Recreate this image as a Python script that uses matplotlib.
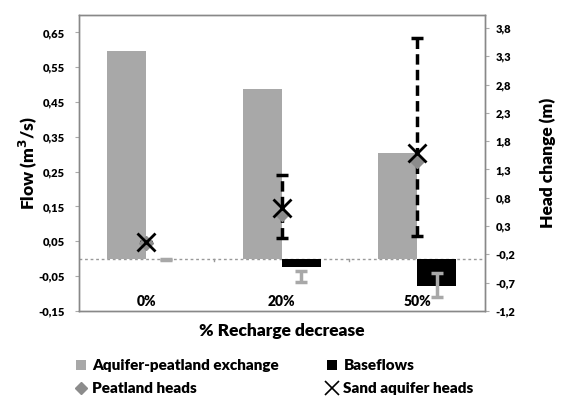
import matplotlib.pyplot as plt
from matplotlib.lines import Line2D
from matplotlib.patches import Patch
import numpy as np

# data
categories = ['0%', '20%', '50%']
exchange = [0.596, 0.488, 0.305]          # flow, m3/s
baseflows = [-0.001, -0.024, -0.080]      # flow, m3/s
base_lo = [-0.005, -0.067, -0.110]
base_hi = [-0.001, -0.035, -0.041]
peat_heads = [0.0, 0.51, 1.45]            # head change, m
sand_heads = [0.01, 0.62, 1.59]
sand_lo = [0.01, 0.08, 0.12]
sand_hi = [0.01, 1.21, 3.62]

flow_ticks = [-0.15, -0.05, 0.05, 0.15, 0.25, 0.35, 0.45, 0.55, 0.65]
flow_labels = ['-0,15', '-0,05', '0,05', '0,15', '0,25', '0,35', '0,45', '0,55', '0,65']
head_ticks = [-1.2, -0.7, -0.2, 0.3, 0.8, 1.3, 1.8, 2.3, 2.8, 3.3, 3.8]
head_labels = ['-1,2', '-0,7', '-0,2', '0,3', '0,8', '1,3', '1,8', '2,3', '2,8', '3,3', '3,8']

plt.rcParams['font.family'] = ['Lato', 'DejaVu Sans']
plt.rcParams['font.weight'] = 'heavy'
plt.rcParams['axes.labelweight'] = 'heavy'

fig = plt.figure(figsize=(5.63, 3.97), dpi=100)
ax = fig.add_axes([0.140, 0.217, 0.721, 0.745])
ax2 = ax.twinx()

x = np.arange(len(categories))
w = 0.29
grey = '#a8a8a8'

ax.bar(x - w / 2, exchange, w, color=grey, zorder=2)
ax.bar(x + w / 2, baseflows, w, color='black', zorder=2)
# the grey whiskers do not straddle the bar end, so draw them as a range
lo = np.array(base_lo)
hi = np.array(base_hi)
mid = (lo + hi) / 2
ax.errorbar(x + w / 2, mid, yerr=(hi - lo) / 2, fmt='none', ecolor=grey,
            elinewidth=2.5, capsize=4, capthick=2.5, zorder=3)

ax.axhline(0, color='#999999', lw=1, ls=(0, (2, 2)), zorder=1)
for xb in [0.5, 1.5]:
    ax.plot([xb, xb], [0, -0.006], color='#999999', lw=1, zorder=1)

s = np.array(sand_heads)
serr = [s - np.array(sand_lo), np.array(sand_hi) - s]
eb = ax2.errorbar(x, sand_heads, yerr=serr, fmt='none', ecolor='black',
                  elinewidth=2.5, capsize=4.5, capthick=2.5, zorder=4)
eb[2][0].set_linestyle((0, (3, 1.5)))
ax2.plot(x, peat_heads, ls='none', marker='D', color='#8c8c8c', ms=7, zorder=5)
ax2.plot(x, sand_heads, ls='none', marker='x', color='black', ms=13, mew=2, zorder=6)

ax.set_xlim(-0.5, 2.5)
ax.set_ylim(-0.15, 0.70)
ax2.set_ylim(-1.2, 4.03)
ax.set_xticks([])
ax.set_yticks(flow_ticks)
ax.set_yticklabels(flow_labels)
ax2.set_yticks(head_ticks)
ax2.set_yticklabels(head_labels)

for a in (ax, ax2):
    for sp in a.spines.values():
        sp.set_color('#888888')
        sp.set_linewidth(1)
    a.tick_params(axis='y', labelsize=8, color='#aaaaaa', length=3, width=0.8)
ax.tick_params(axis='y', pad=7)
ax2.tick_params(axis='y', pad=5)

for i, c in enumerate(categories):
    ax.text(x[i], 0.03, c, transform=ax.get_xaxis_transform(), ha='center',
            va='center', fontsize=10)

ax.set_ylabel('Flow (m$^3$/s)', fontsize=12.5, labelpad=0)
ax2.set_ylabel('Head change (m)', fontsize=12.5, labelpad=17)
ax.set_xlabel('% Recharge decrease', fontsize=12.5, labelpad=9)

handles = [
    Patch(facecolor=grey, edgecolor='none'),
    Line2D([], [], ls='none', marker='D', color='#8c8c8c', ms=6),
    Patch(facecolor='black', edgecolor='none'),
    Line2D([], [], ls='none', marker='x', color='black', ms=10, mew=1.2),
]
labels = ['Aquifer-peatland exchange', 'Peatland heads', 'Baseflows', 'Sand aquifer heads']
fig.legend(handles, labels, ncol=2, loc='lower left', bbox_to_anchor=(0.11, -0.03),
           frameon=False, handlelength=0.7, handletextpad=0.4,
           columnspacing=3.1, labelspacing=0.65, prop={'weight': 'heavy', 'size': 11})

fig.savefig('out.png', dpi=100)
